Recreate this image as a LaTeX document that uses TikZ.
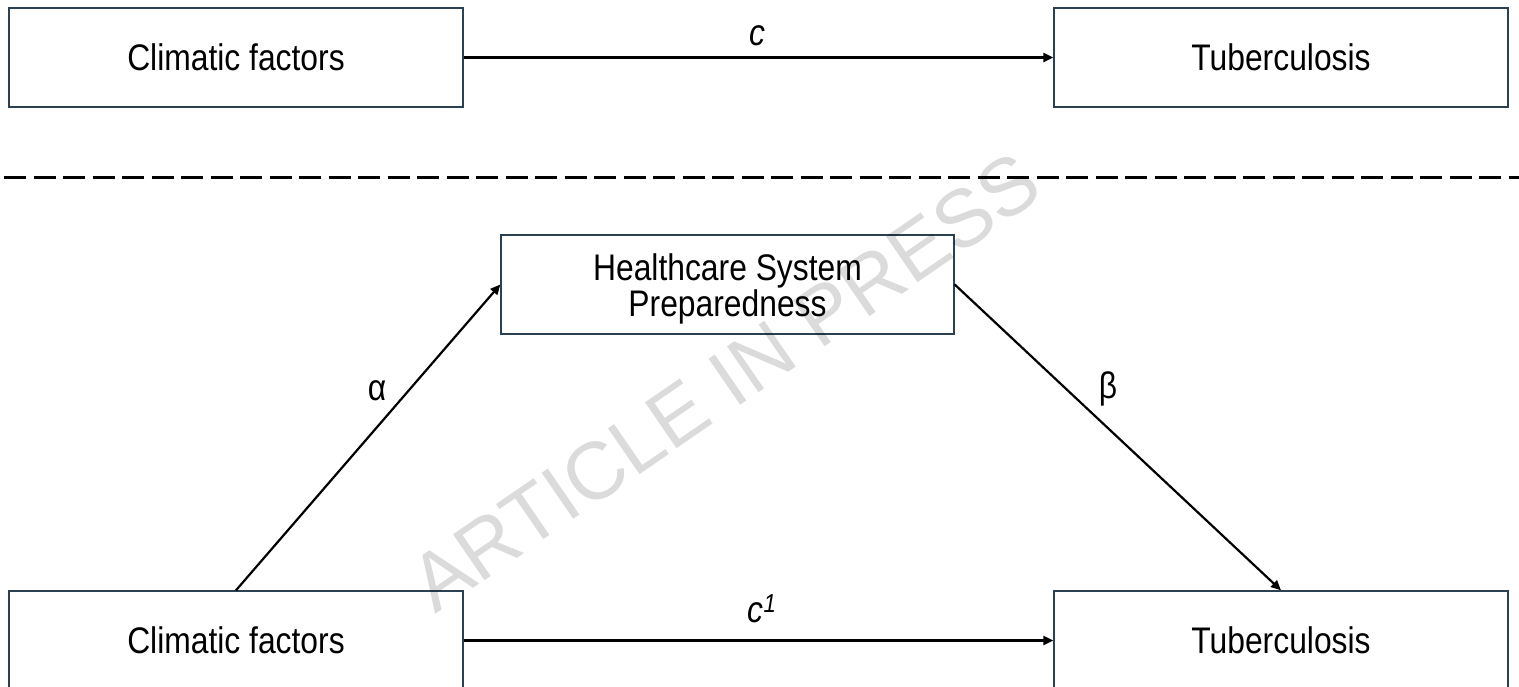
\documentclass[tikz,border=0pt]{standalone}
\usepackage{fontspec}
\setmainfont{Liberation Sans}[FakeStretch=0.86]
\newfontfamily\wmfont{Liberation Sans}
\usetikzlibrary{arrows.meta}
\definecolor{boxline}{HTML}{2B4050}
\tikzset{
  box/.style={draw=boxline, line width=1.4pt, fill=white, minimum width=454pt,
    minimum height=99pt, inner sep=0pt, align=center,
    font=\fontsize{37}{31}\selectfont},
  link/.style={line width=2.2pt, -{Triangle[length=10pt,width=9pt]}},
  lbl/.style={font=\fontsize{37}{40}\selectfont, inner sep=0pt},
  ilbl/.style={font=\fontsize{37}{40}\selectfont\itshape, inner sep=0pt},
  sep/.style={line width=3pt, dash pattern=on 22pt off 7.5pt},
  wmark/.style={font=\wmfont\fontsize{81}{81}\selectfont, text=black,
    text opacity=0.14, inner sep=0pt}
}
\begin{document}
\begin{tikzpicture}[x=1pt,y=-1pt]
\useasboundingbox (0,0) rectangle (1519,686);
\clip (0,0) rectangle (1519,686);

% top model
\node[box] (tl) at (236,57.5) {Climatic factors};
\node[box] (tr) at (1281,57.5) {Tuberculosis};
\draw[link] (tl) -- (tr);
\node[ilbl] (lc) at (757,36) {c};

% separator
\coordinate (sa) at (4,177);
\coordinate (sb) at (1519,177);
\draw[sep] (sa) -- (sb);

% mediation model
\node[box, minimum width=453pt] (hc) at (727.5,284.5) {\rule{0pt}{36pt}Healthcare System\\Preparedness};
\node[box] (bl) at (236,640.5) {Climatic factors};
\node[box] (br) at (1281,640.5) {Tuberculosis};
\draw[link] (bl.north) -- (hc.west);
\draw[link] (hc.east) -- (br.north);
\draw[link] (bl) -- (br);
\node[lbl, anchor=base] (la) at (377,400) {α};
\node[lbl, anchor=base] (lb) at (1108,398) {β};
\node[ilbl, anchor=base] (lc1) at (762,622) {c\textsuperscript{1}};

% watermark
\node[wmark, rotate=34.5] (wm) at (725,382) {ARTICLE IN PRESS};
\end{tikzpicture}
\end{document}
